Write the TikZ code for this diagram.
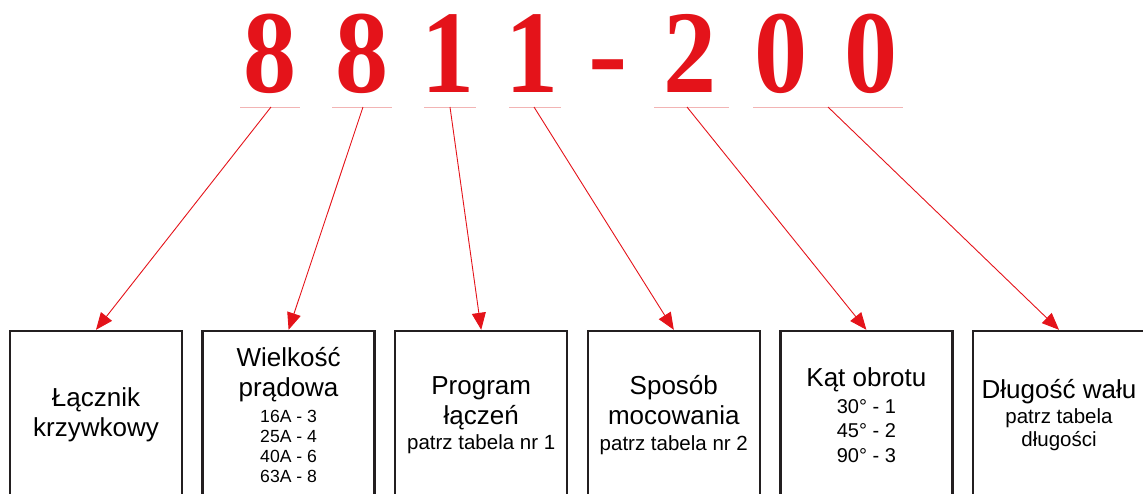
\documentclass[tikz,border=0pt]{standalone}
\usepackage{fontspec}
\setmainfont{Liberation Sans}
\newfontfamily\digitfont{Liberation Serif}
\usetikzlibrary{arrows.meta}
\definecolor{codered}{RGB}{228,19,26}
\definecolor{boxgray}{RGB}{35,31,32}
\definecolor{ulpink}{RGB}{242,180,180}
\setlength{\lineskiplimit}{-100pt}
\newcommand{\cond}[1]{\scalebox{0.9}[1]{#1}}
\begin{document}
\begin{tikzpicture}[x=1pt,y=-1pt,
  digit/.style={text=codered, font=\digitfont\bfseries\fontsize{118}{118}\selectfont, anchor=base, inner sep=0pt},
  ul/.style={draw=ulpink, line width=0.8pt},
  field/.style={draw=boxgray, line width=2.4pt, minimum width=172pt, minimum height=168pt,
    text width=168pt, align=flush center, inner sep=0pt,
    font=\fontsize{26}{30}\selectfont},
  ptr/.style={draw=codered, line width=0.9pt, -{Triangle[length=17pt,width=14pt]}}
]
\useasboundingbox (0,0) rectangle (1143,493);
\clip (0,0) rectangle (1143,493);

% code digits
\node[digit] (d1) at (270.5,92) {\cond{8}};
\node[digit] (d2) at (362,92) {\cond{8}};
\node[digit] (d3) at (448.5,92) {\cond{1}};
\node[digit] (d4) at (532,92) {\cond{1}};
\node[digit] (d5) at (608.5,92) {-};
\node[digit] (d6) at (690.5,92) {\cond{2}};
\node[digit] (d7) at (781.5,92) {\cond{0}};
\node[digit] (d8) at (871.5,92) {\cond{0}};

% underlines
\coordinate (l1a) at (240,107); \coordinate (l1b) at (300,107);
\coordinate (l2a) at (332,107); \coordinate (l2b) at (392,107);
\coordinate (l3a) at (424,107); \coordinate (l3b) at (476,107);
\coordinate (l4a) at (509,107); \coordinate (l4b) at (561,107);
\coordinate (l5a) at (654,107); \coordinate (l5b) at (729,107);
\coordinate (l6a) at (753,107); \coordinate (l6b) at (903,107);
\draw[ul] (l1a) -- (l1b);
\draw[ul] (l2a) -- (l2b);
\draw[ul] (l3a) -- (l3b);
\draw[ul] (l4a) -- (l4b);
\draw[ul] (l5a) -- (l5b);
\draw[ul] (l6a) -- (l6b);

% boxes
\node[field] (b1) at (96,415) {Łącznik\\krzywkowy};
\node[field] (b2) at (288.6,415) {Wielkość\\prądowa\\[-4.5pt]{\fontsize{17.6}{30}\selectfont 16A - 3\\[-10pt]25A - 4\\[-10pt]40A - 6\\[-10pt]63A - 8}};
\node[field] (b3) at (481.2,415) {Program\\łączeń\\[-4.5pt]{\fontsize{20.5}{30}\selectfont patrz tabela nr 1}};
\node[field] (b4) at (673.8,415) {Sposób\\mocowania\\[-4.5pt]{\fontsize{20.5}{30}\selectfont patrz tabela nr 2}};
\node[field] (b5) at (866.4,415) {Kąt obrotu\\[-3pt]{\fontsize{20}{30}\selectfont 30° - 1\\[-5.5pt]45° - 2\\[-5.5pt]90° - 3}};
\node[field] (b6) at (1059,415) {Długość wału\\[-4.5pt]{\fontsize{20.5}{30}\selectfont patrz tabela\\[-7pt]długości}};

% pointers
\coordinate (a1) at (271,107);
\coordinate (a2) at (363,107);
\coordinate (a3) at (450,107);
\coordinate (a4) at (534,107);
\coordinate (a5) at (687,107);
\coordinate (a6) at (828,107);
\draw[ptr] (a1) -- (b1.north);
\draw[ptr] (a2) -- (b2.north);
\draw[ptr] (a3) -- (b3.north);
\draw[ptr] (a4) -- (b4.north);
\draw[ptr] (a5) -- (b5.north);
\draw[ptr] (a6) -- (b6.north);
\end{tikzpicture}
\end{document}
